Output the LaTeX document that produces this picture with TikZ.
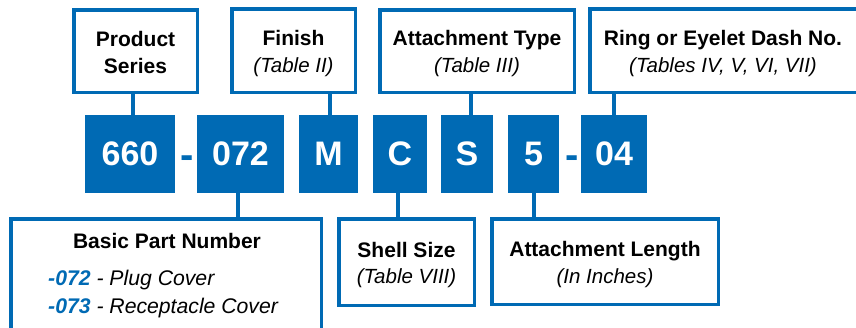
\documentclass[tikz,border=0pt]{standalone}
\usepackage{fontspec}
\setmainfont{Liberation Sans}
\definecolor{pblue}{RGB}{0,106,180}
\begin{document}
\begin{tikzpicture}[x=1pt,y=-1pt,
  lbox/.style={draw=pblue,line width=3.5pt,fill=white,inner sep=0pt,align=center,
    font=\fontsize{21}{27}\selectfont\bfseries},
  cbox/.style={fill=pblue,text=white,inner sep=0pt,minimum height=78pt,
    font=\fontsize{34}{40}\selectfont\bfseries},
  dashtxt/.style={text=pblue,inner sep=0pt,anchor=base,font=\fontsize{40}{44}\selectfont\bfseries},
  conn/.style={draw=pblue,line width=4.5pt},
  txt/.style={inner sep=0pt,anchor=base},
  ttl/.style={txt,font=\fontsize{21}{27}\selectfont\bfseries},
  subt/.style={txt,font=\fontsize{20.5}{27}\selectfont\itshape},
  item/.style={txt,anchor=base west,font=\fontsize{21.2}{27}\selectfont\itshape},
]
\useasboundingbox (0,0) rectangle (856,327);
% code boxes
\node[cbox,minimum width=90pt] (p660) at (130,154) {660};
\node[cbox,minimum width=87pt] (p072) at (240.5,154) {072};
\node[cbox,minimum width=59pt] (pM) at (328.5,154) {M};
\node[cbox,minimum width=54pt] (pC) at (400,154) {C};
\node[cbox,minimum width=52pt] (pS) at (467,154) {S};
\node[cbox,minimum width=51pt] (p5) at (533.5,154) {5};
\node[cbox,minimum width=66pt] (p04) at (614,154) {04};
\node[dashtxt] (d1) at (186.7,168.5) {-};
\node[dashtxt] (d2) at (572,168.5) {-};
% top label boxes
\node[lbox,minimum width=123.5pt,minimum height=82.5pt] (ps) at (135.5,51) {};
\node[ttl] (pst1) at (135.5,46) {Product};
\node[ttl] (pst2) at (135.5,73) {Series};
\node[lbox,minimum width=123.5pt,minimum height=83.5pt] (fin) at (293.5,50.5) {};
\node[ttl] (fint1) at (293.5,45) {Finish};
\node[subt] (fint2) at (293.5,72) {(Table II)};
\node[lbox,minimum width=194.5pt,minimum height=82.5pt] (att) at (477,51) {};
\node[ttl] (att1) at (477,45) {Attachment Type};
\node[subt] (att2) at (477,72) {(Table III)};
\node[lbox,minimum width=268pt,minimum height=83.5pt] (ring) at (724,50.5) {};
\node[ttl] (ring1) at (723,45) {Ring or Eyelet Dash No.};
\node[subt] (ring2) at (723,72) {(Tables IV, V, VI, VII)};
% bottom label boxes
\node[lbox,minimum width=310.5pt,minimum height=126pt] (basic) at (166,281.75) {};
\node[ttl] (basic1) at (167,248) {Basic Part Number};
\node[item] (basic2) at (48,285) {\textcolor{pblue}{\bfseries -072} - Plug Cover};
\node[item] (basic3) at (48,313) {\textcolor{pblue}{\bfseries -073} - Receptacle Cover};
\node[lbox,minimum width=135.5pt,minimum height=86.5pt] (shell) at (406.5,262) {};
\node[ttl] (shell1) at (406.5,257) {Shell Size};
\node[subt] (shell2) at (406.5,283) {(Table VIII)};
\node[lbox,minimum width=226.5pt,minimum height=85.5pt] (alen) at (605,261.5) {};
\node[ttl] (alen1) at (605,256) {Attachment Length};
\node[subt] (alen2) at (605,283) {(In Inches)};
% connectors
\draw[conn] ([xshift=3pt]p660.north) -- ([xshift=3pt]p660.north |- ps.south);
\draw[conn] ([xshift=1.5pt]pM.north) -- ([xshift=1.5pt]pM.north |- fin.south);
\draw[conn] ([xshift=4pt]pS.north) -- ([xshift=4pt]pS.north |- att.south);
\draw[conn] (p04.north) -- (p04.north |- ring.south);
\draw[conn] ([xshift=-2.5pt]p072.south) -- ([xshift=-2.5pt]p072.south |- basic.north);
\draw[conn] ([xshift=-2pt]pC.south) -- ([xshift=-2pt]pC.south |- shell.north);
\draw[conn] ([xshift=0.5pt]p5.south) -- ([xshift=0.5pt]p5.south |- alen.north);
\end{tikzpicture}
\end{document}
